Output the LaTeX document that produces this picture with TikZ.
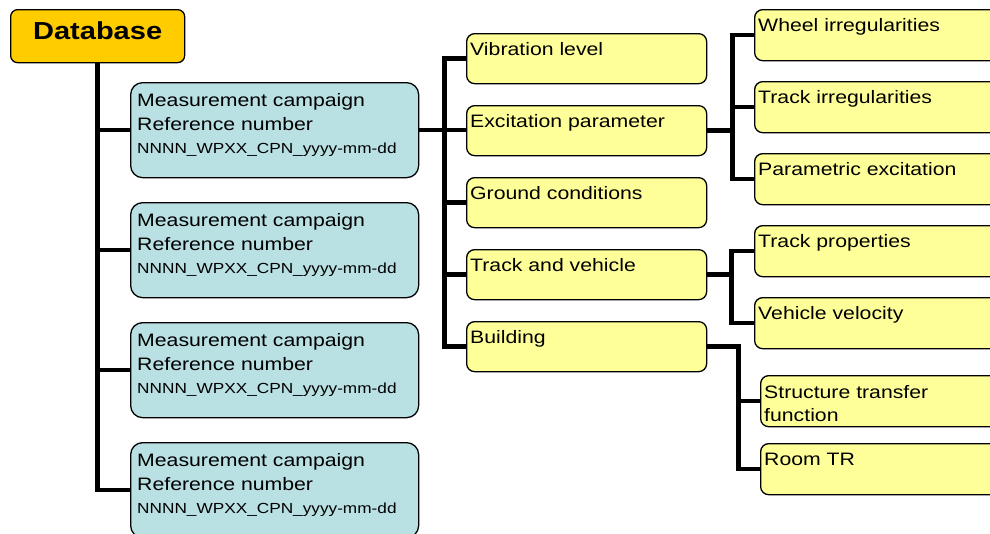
\documentclass[tikz,border=0pt]{standalone}
\usepackage{fontspec}
\setmainfont{Liberation Sans}[FakeStretch=1.18]
\usetikzlibrary{calc}
\definecolor{dbfill}{HTML}{FFCC00}
\definecolor{cfill}{HTML}{B9E0E3}
\definecolor{yfill}{HTML}{FFFF99}
\tikzset{
  box/.style={draw=black, line width=1.3pt, inner sep=0pt, anchor=north west},
  dbbox/.style={box, fill=dbfill, rounded corners=7pt, minimum width=174pt, minimum height=53pt},
  cbox/.style={box, fill=cfill, rounded corners=12pt, minimum width=288pt, minimum height=95pt},
  ybox/.style={box, fill=yfill, rounded corners=8pt},
  mbox/.style={ybox, minimum width=240pt, minimum height=50pt},
  rbox/.style={ybox, minimum width=250pt, minimum height=51pt},
  lbl/.style={anchor=base west, inner sep=0pt, font=\fontsize{18}{22}\selectfont},
  smalllbl/.style={anchor=base west, inner sep=0pt, font=\fontsize{14.6}{18}\selectfont},
  titlelbl/.style={anchor=base, inner sep=0pt, font=\bfseries\fontsize{24.6}{28}\selectfont},
  conn/.style={line width=4.5pt, draw=black},
}
% campaign box: name, top edge
\newcommand\campaign[2]{%
  \node[cbox] (#1) at (130,#2) {};
  \node[lbl] (#1-l1) at ($(#1.north west)+(7,24)$) {Measurement campaign};
  \node[lbl] (#1-l2) at ($(#1.north west)+(7,48)$) {Reference number};
  \node[smalllbl] (#1-l3) at ($(#1.north west)+(7,71)$) {NNNN\_WPXX\_CPN\_yyyy-mm-dd};
}
% yellow box: style, name, left, top, text
\newcommand\ynode[5]{%
  \node[#1] (#2) at (#3,#4) {};
  \node[lbl] (#2-t) at ($(#2.north west)+(4,22)$) {#5};
}
\begin{document}
\begin{tikzpicture}[x=1pt,y=-1pt]
\useasboundingbox (0,0) rectangle (990,533);
\clip (0,0) rectangle (990,533);
\fill[white] (0,0) rectangle (990,533);

% root
\node[dbbox] (db) at (10,9) {};
\node[titlelbl] (db-t) at ($(db.north)+(0,30)$) {Database};

% campaigns
\campaign{c1}{82}
\campaign{c2}{202}
\campaign{c3}{322}
\campaign{c4}{442}

% parameter groups
\ynode{mbox}{vib}{466}{33}{Vibration level}
\ynode{mbox}{exc}{466}{105}{Excitation parameter}
\ynode{mbox}{gc}{466}{177}{Ground conditions}
\ynode{mbox}{tv}{466}{249}{Track and vehicle}
\ynode{mbox}{bld}{466}{321}{Building}

% details
\ynode{rbox}{whl}{754}{9}{Wheel irregularities}
\ynode{rbox}{tirr}{754}{81}{Track irregularities}
\ynode{rbox}{par}{754}{153}{Parametric excitation}
\ynode{rbox}{tp}{754}{225}{Track properties}
\ynode{rbox}{vv}{754}{297}{Vehicle velocity}
\node[rbox] (stf) at (760,375) {};
\node[lbl] (stf-t1) at ($(stf.north west)+(4,23)$) {Structure transfer};
\node[lbl] (stf-t2) at ($(stf.north west)+(4,46)$) {function};
\ynode{rbox}{rtr}{760}{443}{Room TR}

% connectors: root to campaigns
\draw[conn] (db.south) |- (c1.west);
\draw[conn] (db.south) |- (c2.west);
\draw[conn] (db.south) |- (c3.west);
\draw[conn] (db.south) |- (c4.west);

% campaign to parameter groups
\coordinate (mj) at ($(c1.east)+(25,0)$);
\draw[conn] (c1.east) -- (c1.east -| exc.west);
\draw[conn] (mj) |- (vib.west);
\draw[conn] (mj) |- (bld.west);
\draw[conn] (mj |- gc.west) -- (gc.west);
\draw[conn] (mj |- tv.west) -- (tv.west);

% excitation details
\coordinate (rj) at ($(exc.east)+(25,0)$);
\draw[conn] (exc.east) -- (rj);
\draw[conn] (rj) |- (whl.west);
\draw[conn] (rj) |- (par.west);
\draw[conn] (rj |- tirr.west) -- (tirr.west);

% track and vehicle details
\coordinate (tj) at ($(tv.east)+(24,0)$);
\draw[conn] (tv.east) -- (tj);
\draw[conn] (tj) |- (tp.west);
\draw[conn] (tj) |- (vv.west);

% building details
\coordinate (bj) at ($(bld.east)+(31,0)$);
\draw[conn] (bld.east) -- (bj) |- (rtr.west);
\draw[conn] (bj |- stf.west) -- (stf.west);
\end{tikzpicture}
\end{document}
